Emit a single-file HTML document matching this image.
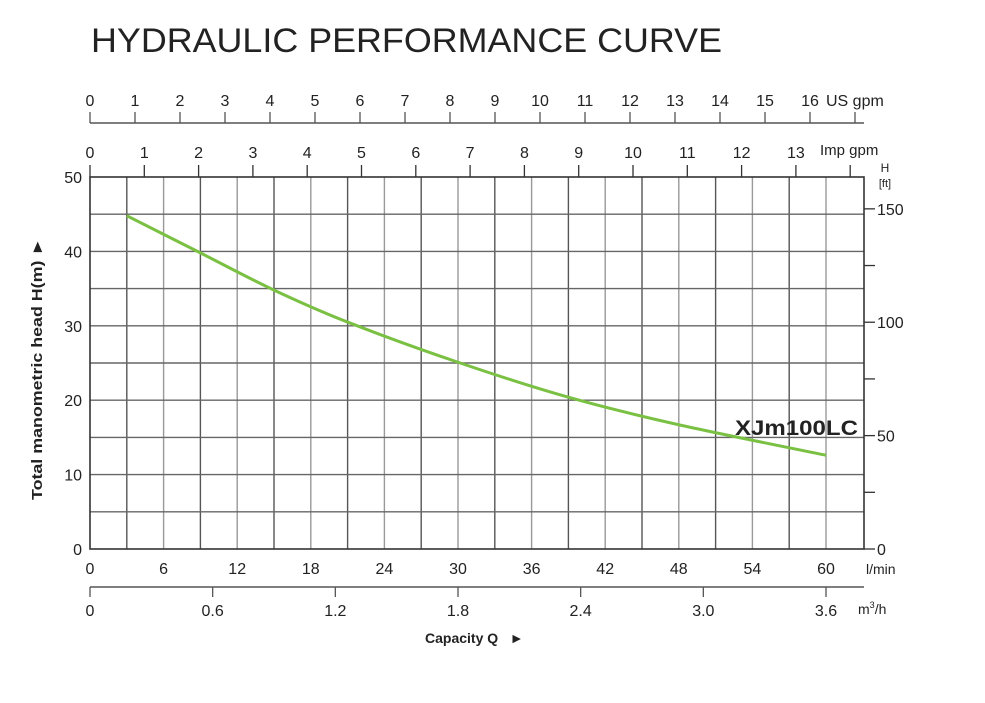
<!DOCTYPE html>
<html><head><meta charset="utf-8"><style>
body{margin:0;background:#fff;}
svg text{font-family:"Liberation Sans",Arial,sans-serif;fill:#222;}
</style></head><body>
<svg id="c" width="985" height="698" viewBox="0 0 985 698" xmlns="http://www.w3.org/2000/svg">
<text x="91" y="52" font-size="34" textLength="631" lengthAdjust="spacingAndGlyphs">HYDRAULIC PERFORMANCE CURVE</text>
<g id="grid"></g><g id="axes"></g><g id="curve"></g>
<text x="735" y="435" font-size="21" font-weight="bold" textLength="123" lengthAdjust="spacingAndGlyphs">XJm100LC</text>
<text transform="translate(42,369) rotate(-90)" text-anchor="middle" font-size="15" font-weight="bold" textLength="262" lengthAdjust="spacingAndGlyphs">Total manometric head H(m) ►</text>
<text x="425" y="643" font-size="14" font-weight="bold">Capacity Q &#160;&#160;►</text>
</svg>
<script>
const flowLmin=[3,9,15,21,30,39,48,60];
const headM=[44.8,39.8,34.8,30.5,25.1,20.4,16.7,12.6];
const lminTicks=[0,6,12,18,24,30,36,42,48,54,60];
const m3hTicks=["0","0.6","1.2","1.8","2.4","3.0","3.6"];
const usTicks=[0,1,2,3,4,5,6,7,8,9,10,11,12,13,14,15,16,17];
const impTicks=[0,1,2,3,4,5,6,7,8,9,10,11,12,13,14];
const hTicks=[0,10,20,30,40,50];
const ftTicks=[0,25,50,75,100,125,150];
const NS="http://www.w3.org/2000/svg";
const L=90,R=864,T=177,B=549;
const x=q=>L+q*(736/60);
const y=h=>B-h*((B-T)/50);
function mk(p,tag,a,txt){const e=document.createElementNS(NS,tag);for(const k in a)e.setAttribute(k,a[k]);if(txt!==undefined)e.textContent=txt;p.appendChild(e);return e;}
const g=document.getElementById('grid'),ax=document.getElementById('axes'),cv=document.getElementById('curve');
for(let i=1;i<21;i++){const l=mk(g,'line',{x1:x(i*3),x2:x(i*3),y1:T,y2:B,stroke:i%2?'#555':'#999','stroke-width':1.4});

}
for(let i=1;i<10;i++){const l=mk(g,'line',{x1:L,x2:R,y1:y(i*5),y2:y(i*5),stroke:'#666','stroke-width':1.4});

}
const fr=mk(g,'rect',{x:L,y:T,width:R-L,height:B-T,fill:'none',stroke:'#333','stroke-width':1.6});


hTicks.forEach(h=>{const t=mk(ax,'text',{x:82,y:y(h)+6,'text-anchor':'end','font-size':16},h);

});
ftTicks.forEach(f=>{const yy=y(f*0.3048);mk(ax,'line',{x1:R,x2:R+11,y1:yy,y2:yy,stroke:'#333','stroke-width':1.3});
if(f%50===0){const t=mk(ax,'text',{x:R+13,y:yy+6,'font-size':16},f);

}});
mk(ax,'text',{x:885,y:172,'text-anchor':'middle','font-size':12},'H');
mk(ax,'text',{x:885,y:187,'text-anchor':'middle','font-size':11},'[ft]');
lminTicks.forEach(q=>{const t=mk(ax,'text',{x:x(q),y:574,'text-anchor':'middle','font-size':16},q);

});
mk(ax,'text',{x:866,y:574,'font-size':14},'l/min');
mk(ax,'line',{x1:L,x2:R,y1:587,y2:587,stroke:'#555','stroke-width':1.5});
m3hTicks.forEach(v=>{const xx=x(parseFloat(v)*1000/60);mk(ax,'line',{x1:xx,x2:xx,y1:587,y2:597,stroke:'#555','stroke-width':1.3});
const t=mk(ax,'text',{x:xx,y:616,'text-anchor':'middle','font-size':16},v);

});
const m3=mk(ax,'text',{x:858,y:614,'font-size':14},'m');mk(m3,'tspan',{'font-size':9,dy:-6},'3');mk(m3,'tspan',{dy:6},'/h');
mk(ax,'line',{x1:L,x2:R,y1:123,y2:123,stroke:'#555','stroke-width':1.5});
usTicks.forEach(v=>{const xx=L+v*45;mk(ax,'line',{x1:xx,x2:xx,y1:112,y2:123,stroke:'#555','stroke-width':1.3});
if(v<17){const t=mk(ax,'text',{x:xx,y:106,'text-anchor':'middle','font-size':16},v);

}});
mk(ax,'text',{x:826,y:106,'font-size':16},'US gpm');
impTicks.forEach(v=>{const xx=L+v*54.3;mk(ax,'line',{x1:xx,x2:xx,y1:165,y2:177,stroke:'#333','stroke-width':1.3});
if(v<14){const t=mk(ax,'text',{x:xx,y:158,'text-anchor':'middle','font-size':16},v);

}});
mk(ax,'text',{x:820,y:155,'font-size':15},'Imp gpm');
const pts=flowLmin.map((q,i)=>[x(q),y(headM[i])]);
let d='M'+pts[0][0]+','+pts[0][1];
for(let i=0;i<pts.length-1;i++){const p0=pts[i-1]||pts[i],p1=pts[i],p2=pts[i+1],p3=pts[i+2]||p2;
d+=` C${p1[0]+(p2[0]-p0[0])/6},${p1[1]+(p2[1]-p0[1])/6} ${p2[0]-(p3[0]-p1[0])/6},${p2[1]-(p3[1]-p1[1])/6} ${p2[0]},${p2[1]}`;}
const path=mk(cv,'path',{d:d,fill:'none',stroke:'#7ac143','stroke-width':3});


</script>
</body></html>
